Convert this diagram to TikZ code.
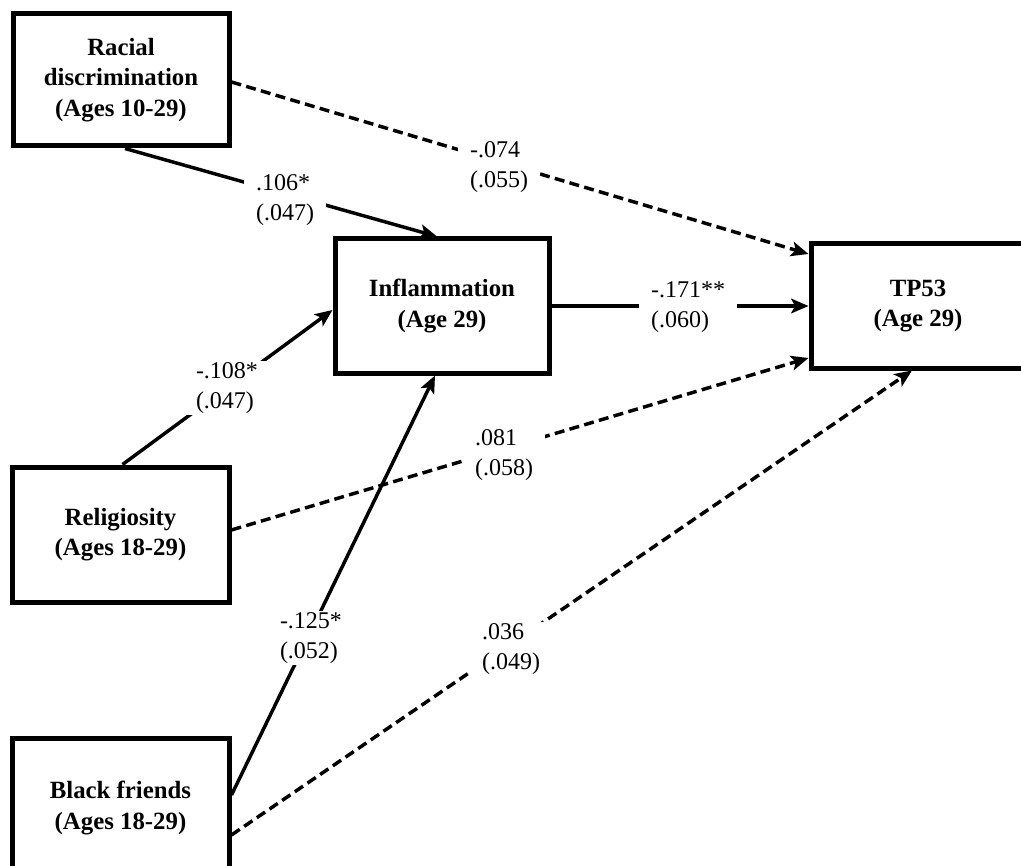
\documentclass[tikz,border=0pt]{standalone}
\usepackage{fontspec}
\setmainfont{Liberation Serif}
\usetikzlibrary{arrows.meta}
\begin{document}
\begin{tikzpicture}[x=0.75pt,y=-0.75pt,
  box/.style={draw,line width=3.75pt,fill=white,align=center,
    font=\fontsize{18.6pt}{23pt}\selectfont\bfseries,inner sep=0pt},
  conn/.style={line width=2.6pt,-{Stealth[length=13pt,width=11pt,inset=3pt]}},
  dconn/.style={conn,dash pattern=on 7.5pt off 4pt},
  lab/.style={fill=white,align=left,inner xsep=9pt,inner ysep=1pt,
    font=\fontsize{18pt}{22.5pt}\selectfont}]
\useasboundingbox (0,0) rectangle (1021,866);
\clip (0,0) rectangle (1021,866);
\fill[white] (0,0) rectangle (1021,866);
% boxes
\node[box,minimum width=162pt,minimum height=99pt] (rac) at (121,80) {Racial\\discrimination\\(Ages 10-29)};
\node[box,minimum width=160.5pt,minimum height=100.5pt] (inf) at (442,306) {Inflammation\\(Age 29)};
\node[box,minimum width=160.5pt,minimum height=93pt] (tp) at (918,306) {TP53\\(Age 29)};
\node[box,minimum width=162.75pt,minimum height=101.25pt] (rel) at (120.5,534.5) {Religiosity\\(Ages 18-29)};
\node[box,minimum width=162.75pt,minimum height=105pt] (bf) at (120.5,808) {Black friends\\(Ages 18-29)};
% connectors
\draw[dconn] ([yshift=-1.5pt]rac.east) -- ([yshift=39pt]tp.west);
\draw[conn] ([xshift=3pt]rac.south) -- ([xshift=-3.75pt]inf.north);
\draw[conn] (inf.east) -- (tp.west);
\draw[conn] ([xshift=1.5pt]rel.north) -- ([yshift=-3pt]inf.west);
\draw[dconn] ([yshift=3.4pt]rel.east) -- ([yshift=-39pt]tp.west);
\draw[conn] ([yshift=9.75pt]bf.east) -- ([xshift=-5.25pt]inf.south);
\draw[dconn] ([yshift=-20.25pt]bf.east) -- ([xshift=-4.5pt]tp.south);
% labels
\node[lab] (l1) at (499,167) {-.074\\(.055)};
\node[lab] (l2) at (285,200) {.106*\\(.047)};
\node[lab] (l3) at (688,307) {-.171**\\(.060)};
\node[lab] (l4) at (227,388) {-.108*\\(.047)};
\node[lab] (l5) at (504,455) {.081\\(.058)};
\node[lab] (l6) at (311,638) {-.125*\\(.052)};
\node[lab] (l7) at (511,649) {.036\\(.049)};
\end{tikzpicture}
\end{document}
